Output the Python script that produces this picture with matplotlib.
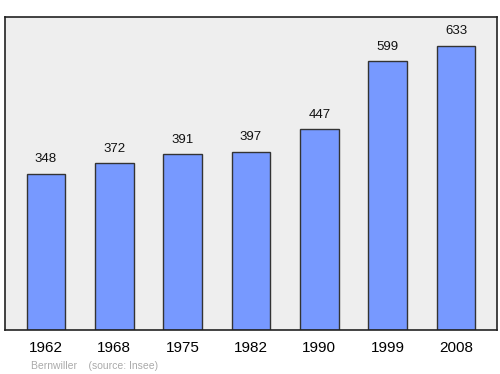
import matplotlib
matplotlib.use("Agg")
import matplotlib.pyplot as plt

plt.rcParams["font.family"] = ["Liberation Sans", "DejaVu Sans"]

years = ["1962", "1968", "1975", "1982", "1990", "1999", "2008"]
population = [348, 372, 391, 397, 447, 599, 633]

fig = plt.figure(figsize=(5.0, 3.74), dpi=100)
ax = fig.add_axes([5/500, 1 - 330/374, 492/500, 313/374])
ax.set_facecolor("#eeeeee")
x = list(range(len(years)))
ax.bar(x, population, width=0.57, color="#7799ff", edgecolor="#333333", linewidth=1.0, zorder=2)
for xi, v in zip(x, population):
    ax.annotate(str(v), (xi, v), xytext=(0, 6), textcoords="offset points",
                ha="center", va="bottom", fontsize=9.5, color="#111111")
ax.set_xlim(-0.6, 6.6)
ax.set_ylim(0, 697)
ax.set_yticks([])
ax.set_xticks(x)
ax.set_xticklabels(years, fontsize=11)
ax.tick_params(axis="x", length=0, pad=8)
for s in ax.spines.values():
    s.set_color("#222222")
    s.set_linewidth(1.2)
fig.text(31/500, 1 - 366/374, "Bernwiller    (source: Insee)", fontsize=7.5, color="#aaaaaa", va="center")
fig.savefig("out.png", dpi=100)
